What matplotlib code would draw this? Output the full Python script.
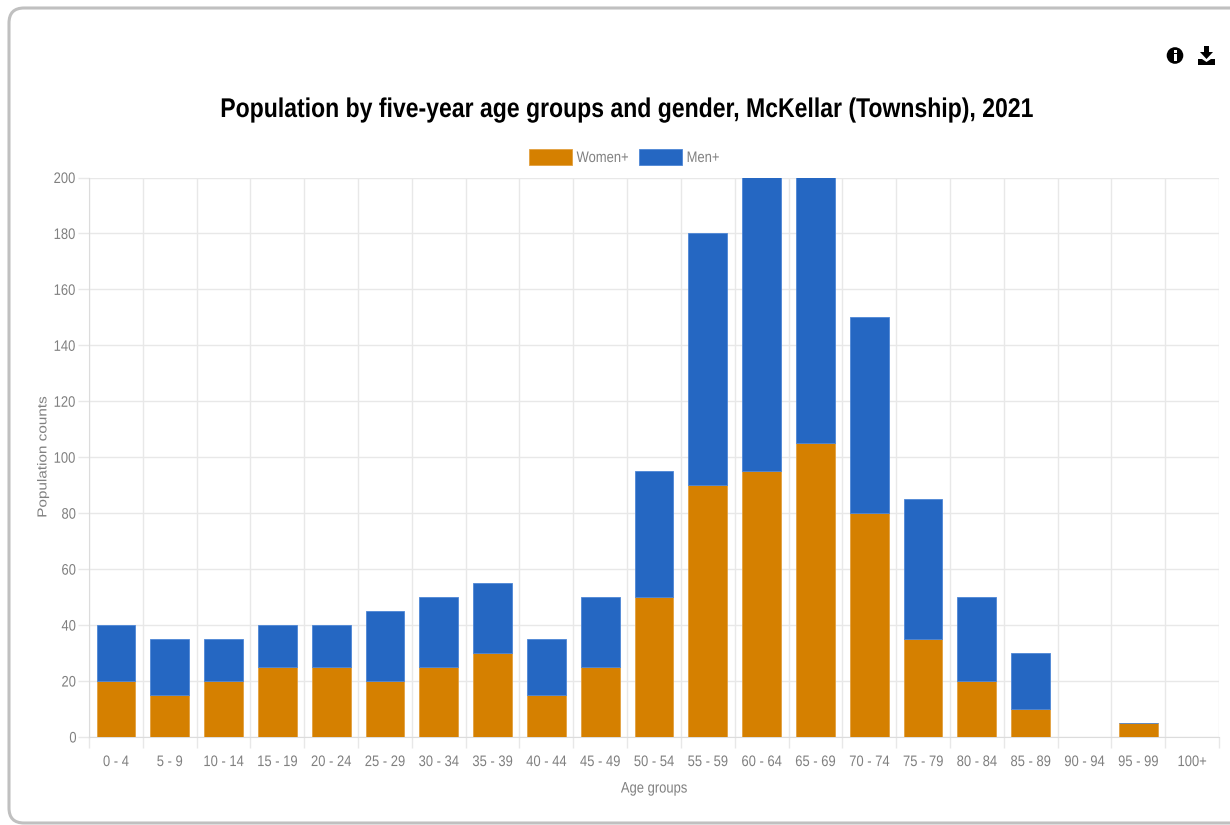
import matplotlib
matplotlib.use('Agg')
import matplotlib.pyplot as plt
from matplotlib.patches import FancyBboxPatch, Circle, Polygon, Rectangle
from matplotlib.patheffects import AbstractPathEffect
from matplotlib.text import Text
from matplotlib.transforms import Affine2D

age_groups = ['0 - 4', '5 - 9', '10 - 14', '15 - 19', '20 - 24', '25 - 29', '30 - 34',
              '35 - 39', '40 - 44', '45 - 49', '50 - 54', '55 - 59', '60 - 64', '65 - 69',
              '70 - 74', '75 - 79', '80 - 84', '85 - 89', '90 - 94', '95 - 99', '100+']
women = [20, 15, 20, 25, 25, 20, 25, 30, 15, 25, 50, 90, 95, 105, 80, 35, 20, 10, 0, 5, 0]
men = [20, 20, 15, 15, 15, 25, 25, 25, 20, 25, 45, 90, 110, 105, 70, 50, 30, 20, 0, 0, 0]
y_ticks = list(range(0, 201, 20))

WIDTH, HEIGHT = 1230, 825
ORANGE = '#d58000'
BLUE = '#2567c2'
GRID = '#e8e8e8'
TEXT = '#808080'
LABEL_SIZE = 11


class SqueezeX(AbstractPathEffect):
    # narrows text horizontally on screen, about the centre of the string
    def __init__(self, factor=0.85):
        super().__init__()
        self.factor = factor

    def draw_path(self, renderer, gc, tpath, affine, rgbFace=None):
        cx = tpath.get_extents(affine).x0 + tpath.get_extents(affine).width / 2
        squeeze = Affine2D().translate(-cx, 0).scale(self.factor, 1).translate(cx, 0)
        renderer.draw_path(gc, tpath, affine + squeeze, rgbFace)


plt.rcParams['font.family'] = ['Liberation Sans', 'DejaVu Sans']

fig = plt.figure(figsize=(WIDTH / 100, HEIGHT / 100), dpi=100)

# full-figure layer in pixel units for the card and toolbar icons
bg = fig.add_axes([0, 0, 1, 1], zorder=0)
bg.set_xlim(0, WIDTH)
bg.set_ylim(HEIGHT, 0)
bg.axis('off')
bg.add_patch(FancyBboxPatch((24, 23), 1300, 785, boxstyle='round,pad=15,rounding_size=15',
                            fc='white', ec='#c0c0c0', lw=2.2, mutation_aspect=1))

# info icon
bg.add_patch(Circle((1175, 55.5), 8.3, fc='black', ec='none'))
bg.add_patch(Rectangle((1173.6, 50), 2.9, 2.6, fc='white', ec='none'))
bg.add_patch(Rectangle((1173.6, 54), 2.9, 6.5, fc='white', ec='none'))

# download icon
bg.add_patch(Polygon([(1204, 46), (1209, 46), (1209, 52), (1213, 52), (1206.5, 59),
                      (1200, 52), (1204, 52)], fc='black', ec='none'))
bg.add_patch(Polygon([(1198, 59), (1202, 59), (1206.5, 62), (1211, 59), (1215, 59),
                      (1215, 65), (1198, 65)], fc='black', ec='none'))

# plot area: x 89-1219, y 177.5-737 in pixels
left, right, top, bottom = 89, 1219, 177.5, 737
ax = fig.add_axes([left / WIDTH, 1 - bottom / HEIGHT, (right - left) / WIDTH, (bottom - top) / HEIGHT],
                  zorder=1)
ax.patch.set_alpha(0)

xs = list(range(len(age_groups)))
ax.bar(xs, women, width=0.72, color=ORANGE, edgecolor='#e2a040', linewidth=0.6, label='Women+', zorder=3)
ax.bar(xs, men, width=0.72, bottom=women, color=BLUE, edgecolor='#4d86d6', linewidth=0.6, label='Men+', zorder=3)

ax.set_xlim(-0.5, len(age_groups) - 0.5)
ax.set_ylim(0, 200)
ax.set_yticks(y_ticks)
ax.set_xticks(xs)
ax.set_xticklabels(age_groups)
ax.set_xticks([x - 0.5 for x in range(len(age_groups) + 1)], minor=True)

ax.grid(True, axis='y', color=GRID, lw=1, zorder=0)
ax.grid(True, axis='x', which='minor', color=GRID, lw=1, zorder=0)
ax.grid(False, axis='x', which='major')
ax.tick_params(axis='y', length=8, width=1, color=GRID, labelcolor=TEXT, labelsize=LABEL_SIZE, pad=0.5)
ax.tick_params(axis='x', which='major', length=0, labelcolor=TEXT, labelsize=LABEL_SIZE, pad=13)
ax.tick_params(axis='x', which='minor', length=8, width=1, color=GRID)
for name, spine in ax.spines.items():
    spine.set_visible(name in ('left', 'bottom'))
    spine.set_color('#dcdcdc')

ax.set_xlabel('Age groups', fontsize=LABEL_SIZE, color=TEXT, labelpad=9)
ax.yaxis.set_label_coords((50 - left) / (right - left), 0.5)
ax.set_ylabel('Population counts', fontsize=LABEL_SIZE, color=TEXT)

fig.text(627 / WIDTH, 1 - 110 / HEIGHT, 'Population by five-year age groups and gender, McKellar (Township), 2021',
         ha='center', va='center', fontsize=19.5, fontweight='bold', color='black')

# legend drawn by hand so the swatches keep their exact size
bg.add_patch(Rectangle((529, 149), 43, 16, fc=ORANGE, ec='#e2a040', lw=0.6))
bg.add_patch(Rectangle((639, 149), 43, 16, fc=BLUE, ec='#4d86d6', lw=0.6))
bg.text(602.5, 158, 'Women+', fontsize=LABEL_SIZE, color=TEXT, ha='center', va='center')
bg.text(703, 158, 'Men+', fontsize=LABEL_SIZE, color=TEXT, ha='center', va='center')

fig.canvas.draw()
for txt in fig.findobj(Text):
    txt.set_path_effects([SqueezeX()])

fig.savefig('out.png', dpi=100)
